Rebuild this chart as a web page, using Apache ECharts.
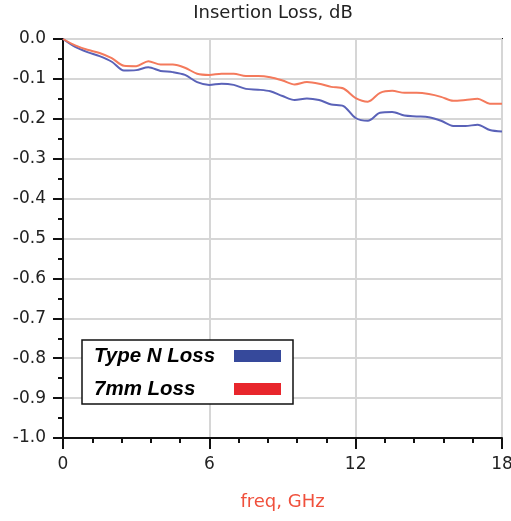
<!DOCTYPE html>
<html>
<head>
<meta charset="utf-8">
<script src="https://cdn.jsdelivr.net/npm/echarts@6/dist/echarts.min.js"></script>
<style>
  html, body { margin: 0; padding: 0; background: #fff; }
  #chart { width: 511px; height: 521px; }
</style>
</head>
<body>
<div id="chart"></div>
<script>
// Frequency sweep points, GHz
const freq = [0, 0.5, 1, 1.5, 2, 2.5, 3, 3.5, 4, 4.5, 5, 5.5, 6, 6.5, 7, 7.5, 8, 8.5, 9,
  9.5, 10, 10.5, 11, 11.5, 12, 12.5, 13, 13.5, 14, 14.5, 15, 15.5, 16, 16.5, 17, 17.5, 18];

// Insertion loss, dB
const typeNLoss = [0, -0.020, -0.033, -0.043, -0.057, -0.079, -0.078, -0.071, -0.080, -0.083,
  -0.090, -0.108, -0.115, -0.112, -0.115, -0.125, -0.127, -0.131, -0.143, -0.153, -0.149,
  -0.153, -0.164, -0.168, -0.198, -0.205, -0.185, -0.183, -0.192, -0.194, -0.196, -0.205,
  -0.218, -0.218, -0.215, -0.228, -0.232];
const mm7Loss = [0, -0.016, -0.027, -0.035, -0.048, -0.067, -0.068, -0.056, -0.064, -0.064,
  -0.072, -0.087, -0.090, -0.087, -0.087, -0.093, -0.093, -0.096, -0.104, -0.114, -0.108,
  -0.112, -0.120, -0.124, -0.148, -0.157, -0.135, -0.130, -0.135, -0.135, -0.138, -0.145,
  -0.155, -0.153, -0.150, -0.162, -0.162];

const seriesNames = ['Type N Loss', '7mm Loss'];
const xTicks = [0, 6, 12, 18];

const pairs = (xs, ys) => xs.map((x, i) => [x, ys[i]]);

const legendFont = {
  fontFamily: 'Liberation Sans', fontSize: 20.5, fontWeight: 'bold', fontStyle: 'italic',
  color: '#000', lineHeight: 22
};

const chart = echarts.init(document.getElementById('chart'));
chart.setOption({
  animation: false,
  backgroundColor: '#fff',
  title: {
    text: 'Insertion Loss, dB',
    left: 273, top: 4, textAlign: 'center', padding: 0,
    textStyle: { fontFamily: 'DejaVu Sans', fontSize: 18, fontWeight: 'normal', color: '#222' }
  },
  grid: {
    left: 63, right: 9, top: 39, bottom: 83,
    outerBoundsMode: 'none', containLabel: false,
    show: true, borderColor: '#111', borderWidth: 2, backgroundColor: 'transparent'
  },
  legend: {
    orient: 'vertical',
    left: 82, top: 340,
    align: 'right',
    backgroundColor: '#fff',
    borderColor: '#111', borderWidth: 1.5, borderRadius: 0,
    padding: [5, 12, 4, 12],
    itemGap: 11,
    itemWidth: 47, itemHeight: 12,
    icon: 'rect',
    formatter: name => '{t|' + name + '}',
    textStyle: Object.assign({}, legendFont, {
      rich: { t: Object.assign({}, legendFont, { width: 135, align: 'left' }) }
    }),
    data: [
      { name: seriesNames[0], itemStyle: { color: '#36499b' } },
      { name: seriesNames[1], itemStyle: { color: '#e8262c' } }
    ]
  },
  xAxis: {
    type: 'value', min: 0, max: 18, interval: 6,
    name: 'freq, GHz', nameLocation: 'middle', nameGap: 55,
    nameTextStyle: { fontFamily: 'DejaVu Sans', fontSize: 18, color: '#f0503c' },
    axisLine: { onZero: false, lineStyle: { color: '#111', width: 2 } },
    axisTick: { show: true, inside: false, length: 11, lineStyle: { color: '#111', width: 2 } },
    minorTick: { show: true, splitNumber: 5, length: 5, lineStyle: { color: '#111', width: 2 } },
    axisLabel: {
      margin: 18, fontFamily: 'DejaVu Sans', fontSize: 17, color: '#222',
      formatter: v => (xTicks.includes(v) ? String(v) : '')
    },
    splitLine: { show: true, lineStyle: { color: '#d6d6d6', width: 2 } }
  },
  yAxis: {
    type: 'value', min: -1, max: 0, interval: 0.1,
    axisLine: { lineStyle: { color: '#111', width: 2 } },
    axisTick: { show: true, inside: false, length: 10, lineStyle: { color: '#111', width: 2 } },
    minorTick: { show: true, splitNumber: 2, length: 5, lineStyle: { color: '#111', width: 2 } },
    axisLabel: {
      margin: 17, fontFamily: 'DejaVu Sans', fontSize: 17, color: '#222',
      formatter: v => v.toFixed(1)
    },
    splitLine: { show: true, lineStyle: { color: '#d6d6d6', width: 2 } }
  },
  series: [
    {
      name: seriesNames[0], type: 'line', data: pairs(freq, typeNLoss),
      showSymbol: false, smooth: 0.3,
      lineStyle: { color: '#5a62b8', width: 2 }, itemStyle: { color: '#5a62b8' }, z: 3
    },
    {
      name: seriesNames[1], type: 'line', data: pairs(freq, mm7Loss),
      showSymbol: false, smooth: 0.3,
      lineStyle: { color: '#f47a5c', width: 2 }, itemStyle: { color: '#f47a5c' }, z: 3
    }
  ]
});
</script>
</body>
</html>
